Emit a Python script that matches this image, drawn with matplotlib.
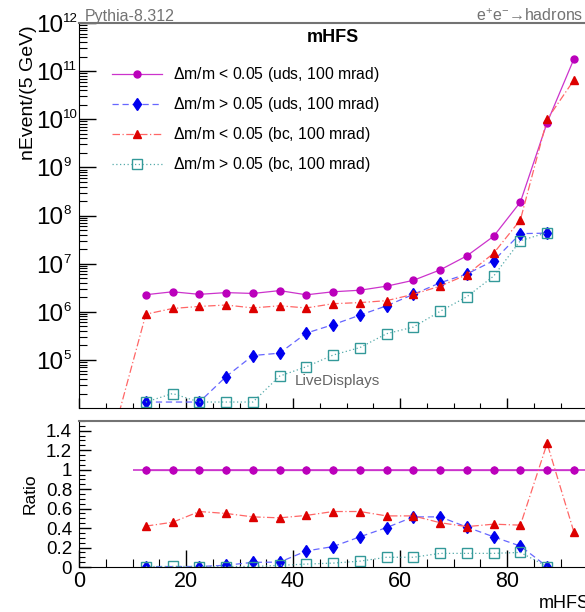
import numpy as np
import matplotlib
matplotlib.use("Agg")
import matplotlib.pyplot as plt
import matplotlib.transforms as mtransforms
from matplotlib.ticker import LogLocator, MultipleLocator, NullFormatter, FixedLocator

plt.rcParams['font.family'] = ['Liberation Sans', 'DejaVu Sans']
plt.rcParams['mathtext.fontset'] = 'custom'
plt.rcParams['mathtext.rm'] = 'Liberation Sans'

# bin centres of mHFS (5 GeV bins)
mhfs = [7.5, 12.5, 17.5, 22.5, 27.5, 32.5, 37.5, 42.5, 47.5, 52.5,
        57.5, 62.5, 67.5, 72.5, 77.5, 82.5, 87.5, 92.5]
nan = np.nan

# event counts
uds_lt = [nan, 2.26e6, 2.6e6, 2.3e6, 2.5e6, 2.4e6, 2.75e6, 2.25e6, 2.6e6, 2.8e6,
          3.4e6, 4.5e6, 7.4e6, 1.45e7, 3.7e7, 1.9e8, 8.5e9, 1.78e11]
uds_gt = [nan, 1.33e4, nan, 1.33e4, 4.5e4, 1.23e5, 1.38e5, 3.6e5, 5.4e5, 8.5e5,
          1.33e6, 2.3e6, 4.0e6, 6.1e6, 1.15e7, 4.2e7, 4.3e7, nan]
bc_lt = [8e3, 8.9e5, 1.17e6, 1.29e6, 1.38e6, 1.2e6, 1.33e6, 1.2e6, 1.47e6, 1.55e6,
         1.7e6, 2.3e6, 3.4e6, 5.9e6, 1.64e7, 8.1e7, 1.0e10, 6.5e10]
bc_gt = [nan, 1.33e4, 2.0e4, 1.33e4, 1.33e4, 1.33e4, 4.6e4, 7.2e4, 1.26e5, 1.8e5,
         3.5e5, 4.8e5, 1.02e6, 2.05e6, 5.5e6, 3.0e7, 4.4e7, nan]

# ratios to uds, dm/m < 0.05
r_uds_lt = [nan] + [1.0] * 17
r_uds_lt_err = [nan] + [0.04] * 17
r_uds_gt = [nan, 0.004, nan, 0.005, 0.018, 0.048, 0.05, 0.165, 0.21, 0.31,
            0.405, 0.515, 0.515, 0.41, 0.31, 0.215, 0.004, nan]
r_bc_lt = [nan, 0.42, 0.46, 0.57, 0.55, 0.515, 0.505, 0.53, 0.57, 0.57,
           0.525, 0.525, 0.455, 0.415, 0.44, 0.43, 1.27, 0.36]
r_bc_gt = [nan, 0.004, 0.006, 0.005, 0.005, 0.005, 0.017, 0.03, 0.04, 0.06,
           0.10, 0.10, 0.14, 0.14, 0.14, 0.15, 0.005, nan]

ydecades = [5, 6, 7, 8, 9, 10, 11, 12]
ratio_ticks = [0, 0.2, 0.4, 0.6, 0.8, 1.0, 1.2, 1.4]
ratio_ticklabels = ['0', '0.2', '0.4', '0.6', '0.8', '1', '1.2', '1.4']

labels = [r'$\Delta$m/m < 0.05 (uds, 100 mrad)',
          r'$\Delta$m/m > 0.05 (uds, 100 mrad)',
          r'$\Delta$m/m < 0.05 (bc, 100 mrad)',
          r'$\Delta$m/m > 0.05 (bc, 100 mrad)']

styles = [
    dict(color='#cc33cc', ls='-', marker='o', ms=5, mfc='#bb00bb', mec='#bb00bb'),
    dict(color='#6666ff', ls=(0, (5, 3)), marker='d', ms=6.5, mfc='#0000ee', mec='#0000ee'),
    dict(color='#ff6666', ls=(0, (6, 2, 1, 2)), marker='^', ms=6, mfc='#dd0000', mec='#dd0000'),
    dict(color='#55aaaa', ls=(0, (1, 2)), marker='s', ms=6.5, mfc='none', mec='#339999', mew=1.0),
]


def valid(xs, ys):
    xs = np.asarray(xs, float)
    ys = np.asarray(ys, float)
    m = ~np.isnan(ys)
    return xs[m], ys[m]


fig = plt.figure(figsize=(5.85, 6.12), dpi=100)
W, H = 585.0, 612.0
x0 = 79 / W
aw = 535 / W
ax = fig.add_axes([x0, 1 - 408 / H, aw, (408 - 23) / H])
ax2 = fig.add_axes([x0, 1 - 567 / H, aw, (567 - 421) / H])

handles = []
for ys, st, lab in zip([uds_lt, uds_gt, bc_lt, bc_gt], styles, labels):
    xs, yv = valid(mhfs, ys)
    h, = ax.plot(xs, yv, lw=0.9, label=lab, **st)
    handles.append(h)

ax.set_yscale('log')
ax.set_xlim(0, 100)
ax.set_ylim(1e4, 1e12)
ax.yaxis.set_major_locator(FixedLocator([10.0 ** d for d in ydecades]))
ax.yaxis.set_minor_locator(LogLocator(base=10, subs=np.arange(2, 10), numticks=20))
ax.yaxis.set_major_formatter(NullFormatter())
ax.yaxis.set_minor_formatter(NullFormatter())
ax.xaxis.set_major_locator(MultipleLocator(20))
ax.xaxis.set_minor_locator(MultipleLocator(5))
ax.set_xticklabels([])
ax.tick_params(axis='y', which='major', direction='in', length=12, width=1)
ax.tick_params(axis='y', which='minor', direction='in', length=6, width=0.8)
ax.tick_params(axis='x', which='major', direction='in', length=7, width=1)
ax.tick_params(axis='x', which='minor', direction='in', length=3.6, width=0.8)

# ROOT-style 10^n labels: big base, small exponent
trans = mtransforms.blended_transform_factory(ax.transAxes, ax.transData)
base_off = mtransforms.offset_copy(trans, fig=fig, x=0, y=-3, units='dots')
exp_off = mtransforms.offset_copy(trans, fig=fig, x=0, y=4, units='dots')
xl = -16 / 535
for d in ydecades:
    ax.text(xl, 10.0 ** d, '10', transform=base_off, fontsize=17.5,
            ha='right', va='center', clip_on=False)
    ax.text(xl, 10.0 ** d, str(d), transform=exp_off, fontsize=9.5,
            ha='left', va='center', clip_on=False)

ax.set_ylabel('nEvent/(5 GeV)', fontsize=14, loc='top')
ax.yaxis.set_label_coords(-0.079, 0.995)
ax.spines['right'].set_visible(False)
ax.spines['top'].set_color('0.45')
ax.spines['top'].set_linewidth(1.5)

leg = ax.legend(handles=handles, loc='upper left', bbox_to_anchor=(112 / W, 1 - 65 / H),
                bbox_transform=fig.transFigure, frameon=False, fontsize=11.3,
                handlelength=3.2, handletextpad=0.7, labelspacing=0.71,
                borderpad=0, borderaxespad=0)

fig.text(85 / W, 1 - 16 / H, 'Pythia-8.312', fontsize=11.5, color='0.45', va='center', ha='left')
fig.text(583 / W, 1 - 16 / H, 'e$^{+}$e$^{-}$\u2192hadrons', fontsize=11.5,
         color='0.45', va='center', ha='right')
fig.text(333 / W, 1 - 38 / H, 'mHFS', fontsize=13, fontweight='bold', va='center', ha='center')
fig.text(295 / W, 1 - 381 / H, 'LiveDisplays', fontsize=11, color='0.4', va='center', ha='left')

# ratio panel
xs, _ = valid(mhfs, r_uds_lt)
ax2.hlines(1.0, xs.min() - 2.5, xs.max() + 2.5, color=styles[0]['color'], lw=1.2)
xs, ev = valid(mhfs, r_uds_lt_err)
ax2.errorbar(xs, np.ones_like(xs), yerr=ev, fmt='none', ecolor=styles[0]['color'], elinewidth=1)
for ys, st in zip([r_uds_lt, r_uds_gt, r_bc_lt, r_bc_gt], styles):
    xs, yv = valid(mhfs, ys)
    ax2.plot(xs, yv, lw=0.9, **st)

ax2.set_xlim(0, 100)
ax2.set_ylim(0, 1.5)
ax2.xaxis.set_major_locator(MultipleLocator(20))
ax2.xaxis.set_minor_locator(MultipleLocator(5))
ax2.yaxis.set_major_locator(FixedLocator(ratio_ticks))
ax2.yaxis.set_minor_locator(MultipleLocator(0.05))
ax2.set_yticklabels(ratio_ticklabels)
ax2.tick_params(axis='y', which='major', direction='in', length=8.5, width=1, pad=5, labelsize=13.5)
ax2.tick_params(axis='y', which='minor', direction='in', length=4, width=0.8)
ax2.tick_params(axis='x', which='major', direction='in', length=12, width=1, pad=3, labelsize=15.5)
ax2.tick_params(axis='x', which='minor', direction='in', length=6, width=0.8)
ax2.set_ylabel('Ratio', fontsize=12.5)
ax2.yaxis.set_label_coords(-0.078, 0.5)
ax2.set_xlabel('mHFS', fontsize=13, ha='right')
ax2.xaxis.set_label_coords(0.955, -0.19)
ax2.spines['right'].set_visible(False)
ax2.spines['top'].set_color('0.45')
ax2.spines['top'].set_linewidth(1.5)

fig.savefig('out.png', dpi=100)
